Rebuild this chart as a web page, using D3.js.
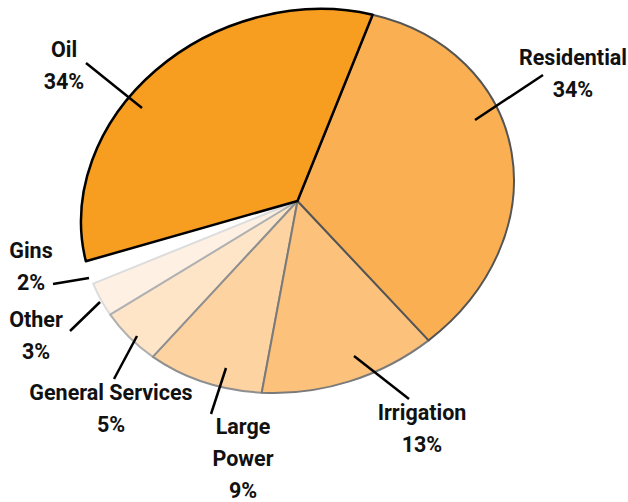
<!DOCTYPE html>
<html>
<head>
<meta charset="utf-8">
<script src="https://cdn.jsdelivr.net/npm/d3@7"></script>
<style>
  body { margin: 0; background: #fff; }
  text { font-family: Roboto, "Liberation Sans", Arial, sans-serif; font-weight: bold; font-size: 21.5px; fill: #111; }
</style>
</head>
<body>
<script>
// data
const categories = ["Oil", "Residential", "Irrigation", "Large Power", "General Services", "Other", "Gins"];
const shares = [34, 34, 13, 9, 5, 3, 2];

// styles
const fills = ["#F79D1F", "#F9AF52", "#FCC17A", "#FDD4A1", "#FEE5C8", "#FEF1E4", "#FFFFFF"];
const strokes = ["#000000", "#555555", "#7a7a7a", "#8f8f8f", "#b0b0b0", "#dcdcdc", "none"];
const strokeWidths = [2.5, 2, 2, 2, 2, 2, 0];

// label layout (centre x, first baseline y, leader end points)
const labelLayout = [
  { x: 64, y: 57, lines: ["Oil"], leader: [86, 63, 142, 108] },
  { x: 573, y: 65, lines: ["Residential"], leader: [543, 75, 475, 120] },
  { x: 422, y: 420, lines: ["Irrigation"], leader: [409, 399, 354, 356] },
  { x: 243, y: 434, lines: ["Large", "Power"], leader: [211, 414, 226, 368] },
  { x: 111, y: 400, lines: ["General Services"], leader: [114, 379, 137, 336] },
  { x: 36, y: 327, lines: ["Other"], leader: [70, 331, 100, 302] },
  { x: 31, y: 258, lines: ["Gins"], leader: [53, 284, 89, 278] }
];

const width = 628, height = 502;
const cx = 297.5, cy = 201;
const R = 100;               // unit pie radius
const rx = 220.4, ry = 187.5; // ellipse semi-axes
const tilt = -21;            // degrees
const lineH = 32;

const svg = d3.select("body").append("svg")
  .attr("width", width)
  .attr("height", height);

const pie = d3.pie()
  .sort(null)
  .value(d => d.value)
  .startAngle(-84 * Math.PI / 180)
  .endAngle(-84 * Math.PI / 180 + 2 * Math.PI);

const arc = d3.arc().innerRadius(0).outerRadius(R);

const data = categories.map((c, i) => ({ name: c, value: shares[i], i }));
const arcs = pie(data);

const g = svg.append("g")
  .attr("transform", `translate(${cx},${cy}) rotate(${tilt}) scale(${rx / R},${ry / R})`);

// draw lightest first so darker outlines sit on shared edges
g.selectAll("path")
  .data(arcs.slice().reverse())
  .enter()
  .append("path")
  .attr("d", arc)
  .attr("fill", d => fills[d.data.i])
  .attr("stroke", d => strokes[d.data.i])
  .attr("stroke-width", d => strokeWidths[d.data.i])
  .attr("stroke-linejoin", "round")
  .attr("vector-effect", "non-scaling-stroke");

// leaders
svg.selectAll(".leader")
  .data(labelLayout)
  .enter()
  .append("line")
  .attr("class", "leader")
  .attr("x1", d => d.leader[0])
  .attr("y1", d => d.leader[1])
  .attr("x2", d => d.leader[2])
  .attr("y2", d => d.leader[3])
  .attr("stroke", "#000")
  .attr("stroke-width", 2.5);

// labels
const labels = svg.selectAll(".label")
  .data(labelLayout)
  .enter()
  .append("text")
  .attr("class", "label")
  .attr("text-anchor", "middle");

labels.each(function (d, i) {
  const t = d3.select(this);
  const rows = d.lines.concat([shares[i] + "%"]);
  rows.forEach((r, k) => {
    t.append("tspan")
      .attr("x", d.x)
      .attr("y", d.y + k * lineH)
      .text(r);
  });
});
</script>
</body>
</html>
